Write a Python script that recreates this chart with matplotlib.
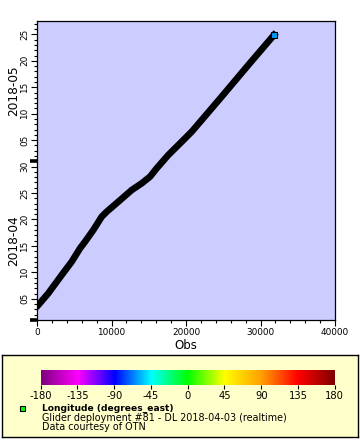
import matplotlib
matplotlib.use("Agg")
import matplotlib.pyplot as plt
import matplotlib.dates as mdates
import matplotlib.transforms as mtransforms
from matplotlib.colors import LinearSegmentedColormap, Normalize
import numpy as np
import pandas as pd

# ---- data ----
obs = [174, 1517, 3315, 4658, 5772, 6443, 7557, 8685, 9356, 10913,
       12712, 14054, 15168, 16067, 17624, 19423, 20766, 24564, 28591, 31813]
times = ["2018-04-03 20:10", "2018-04-06 01:10", "2018-04-09 12:10",
         "2018-04-12 00:30", "2018-04-14 13:10", "2018-04-15 19:10",
         "2018-04-18 00:15", "2018-04-20 12:40", "2018-04-21 11:20",
         "2018-04-23 08:40", "2018-04-25 13:40", "2018-04-26 20:10",
         "2018-04-28 02:10", "2018-04-29 16:20", "2018-05-02 04:35",
         "2018-05-04 16:50", "2018-05-06 14:25", "2018-05-12 20:25",
         "2018-05-19 14:00", "2018-05-24 21:10"]
last_lon = -62.0
x_ticks = [0, 10000, 20000, 30000, 40000]
y_range = ["2018-04-01 00:00", "2018-05-27 14:00"]
month_labels = ["2018-04", "2018-05"]
month_bounds = ["2018-04-01 00:00", "2018-05-01 00:00", "2018-05-27 14:00"]
cbar_ticks = [-180, -135, -90, -45, 0, 45, 90, 135, 180]
cmap_colors = ["#800080", "#ff00ff", "#0000ff", "#00ffff", "#00ff00",
               "#ffff00", "#ffa000", "#ff0000", "#800000"]

plt.rcParams['font.family'] = ['DejaVu Sans']

W, H = 360, 440
fig = plt.figure(figsize=(W / 100, H / 100), dpi=100)

def fx(px):
    return px / W

def fy(py):
    return 1 - py / H

def dnum(lst):
    return mdates.date2num(pd.to_datetime(lst, format="%Y-%m-%d %H:%M"))

# ---- main axes ----
ax = fig.add_axes([fx(37), fy(320), fx(335) - fx(37), fy(20.7) - fy(320)])
ax.set_facecolor("#ccccff")
t = dnum(times)
ax.plot(obs, t, color="black", lw=4.8, solid_capstyle="projecting",
        solid_joinstyle="round", zorder=2)
cmap = LinearSegmentedColormap.from_list("rb", cmap_colors)
norm = Normalize(-180, 180)
ax.plot([obs[-1]], [t[-1]], marker="s", ms=4.6, mfc=cmap(norm(last_lon)),
        mec="black", mew=0.8, zorder=3, ls="none")

ax.set_xlim(x_ticks[0], x_ticks[-1])
ylim = dnum(y_range)
ax.set_ylim(ylim[0], ylim[1])

ax.set_xticks(x_ticks)
ax.set_xticklabels([str(v) for v in x_ticks], fontsize=6.4)
ax.set_xticks(np.arange(0, 40001, 2000), minor=True)
ax.tick_params(axis="x", which="major", length=4, width=0.8, pad=2)
ax.tick_params(axis="x", which="minor", length=2.5, width=0.8)

ax.yaxis.set_major_locator(mdates.DayLocator(bymonthday=[5, 10, 15, 20, 25, 30]))
ax.yaxis.set_major_formatter(mdates.DateFormatter("%d"))
ax.yaxis.set_minor_locator(mdates.DayLocator())
ax.tick_params(axis="y", which="major", length=4, width=0.8, pad=1.5,
               labelsize=6.4, labelrotation=90)
ax.tick_params(axis="y", which="minor", length=2.5, width=0.8)
for lab in ax.get_yticklabels():
    lab.set_va("center")

for s in ax.spines.values():
    s.set_linewidth(0.9)

# thick month-boundary ticks
mb = dnum(month_bounds)
trans = mtransforms.blended_transform_factory(ax.transAxes, ax.transData)
for v in mb[:2]:
    ax.plot([-0.022, 0], [v, v], color="black", lw=2.6, transform=trans,
            clip_on=False, solid_capstyle="butt")

# month labels
for i, lab in enumerate(month_labels):
    mid = (mb[i] + mb[i + 1]) / 2
    ax.text(-0.078, mid, lab, transform=trans, rotation=90, ha="center",
            va="center", fontsize=8.7)

ax.set_xlabel("Obs", fontsize=8.5, labelpad=1)

# ---- legend panel ----
leg = fig.add_axes([fx(2), fy(437), fx(358) - fx(2), fy(355) - fy(437)])
leg.set_facecolor("#ffffcc")
leg.set_xticks([])
leg.set_yticks([])
for s in leg.spines.values():
    s.set_linewidth(1.0)

cax = fig.add_axes([fx(40.7), fy(384.5), fx(334.7) - fx(40.7), fy(370) - fy(384.5)])
grad = np.linspace(-180, 180, 512).reshape(1, -1)
cax.imshow(grad, aspect="auto", cmap=cmap, norm=norm,
           extent=[-180, 180, 0, 1])
cax.set_xlim(-180, 180)
cax.set_yticks([])
cax.set_xticks(cbar_ticks)
cax.set_xticklabels([str(v) for v in cbar_ticks], fontsize=7.2)
cax.tick_params(axis="x", length=3, width=0.8, pad=1.5)
for s in cax.spines.values():
    s.set_visible(False)

fig.patches.append(plt.Rectangle((fx(19.5), fy(410.5)), fx(5), 5 / H,
                                 transform=fig.transFigure,
                                 facecolor="#00ff00", edgecolor="black",
                                 lw=0.8))
fig.text(fx(42.5), fy(408.3), "Longitude (degrees_east)", fontsize=6.6,
         fontweight="bold", va="center", ha="left")
fig.text(fx(42.5), fy(417.5), "Glider deployment #81 - DL 2018-04-03 (realtime)",
         fontsize=6.9, va="center", ha="left")
fig.text(fx(42.5), fy(426.8), "Data courtesy of OTN", fontsize=6.9,
         va="center", ha="left")

fig.savefig("out.png", dpi=100, facecolor="white")
